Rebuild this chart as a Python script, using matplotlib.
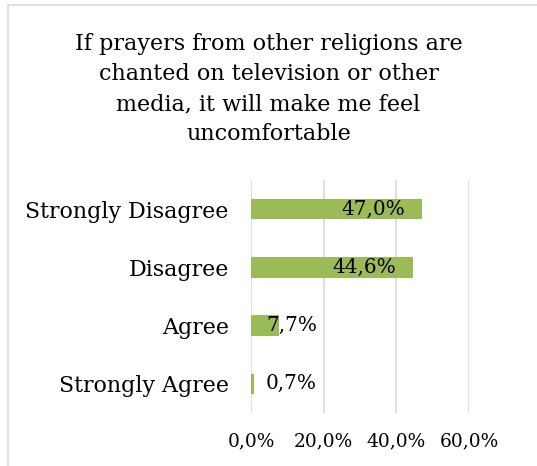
import matplotlib.pyplot as plt
from matplotlib.patches import Rectangle

# data
categories = ["Strongly Agree", "Agree", "Disagree", "Strongly Disagree"]
values = [0.7, 7.7, 44.6, 47.0]
xticks = [0, 20, 40, 60]
title = ("If prayers from other religions are\nchanted on television or other\n"
         "media, it will make me feel\nuncomfortable")

FONT = "DejaVu Serif"
BAR_COLOR = "#9BBB59"
GRID_COLOR = "#D9D9D9"

fig = plt.figure(figsize=(5.37, 4.66), dpi=100)
ax = fig.add_axes([0.4674, 0.1137, 0.406, 0.5])

# light frame around the chart area (only top and left visible in the crop)
fig.patches.append(Rectangle((8 / 537, -0.1), 1.2, 1 - 5 / 466 + 0.1,
                             transform=fig.transFigure, fill=False,
                             edgecolor="#D9D9D9", linewidth=1.2))

ypos = list(range(len(categories)))
ax.barh(ypos, values, height=0.35, color=BAR_COLOR, zorder=2)

ax.set_xlim(0, 60)
ax.set_ylim(-0.5, len(categories) - 0.5)
ax.set_xticks(xticks)
ax.set_xticklabels([f"{t:.1f}%".replace(".", ",") for t in xticks],
                   fontsize=13.4, family=FONT)
ax.set_yticks(ypos)
ax.set_yticklabels(categories, fontsize=15.9, family=FONT)
ax.tick_params(axis="both", length=0)
ax.tick_params(axis="y", pad=16)
ax.tick_params(axis="x", pad=14)
ax.grid(axis="x", color=GRID_COLOR, linewidth=1.2, zorder=0)
for s in ax.spines.values():
    s.set_visible(False)

# data labels
for y, v in zip(ypos, values):
    txt = f"{v:.1f}%".replace(".", ",")
    if v > 20:
        ax.text(v - 4.7, y, txt, ha="right", va="center", fontsize=14.4,
                family=FONT, zorder=3)
    else:
        ax.text(4.1, y, txt, ha="left", va="center", fontsize=14.4,
                family=FONT, zorder=3)

fig.text(0.5, 0.809, title, ha="center", va="center", fontsize=16,
         family=FONT, linespacing=1.48)

fig.savefig("out.png", dpi=100)
